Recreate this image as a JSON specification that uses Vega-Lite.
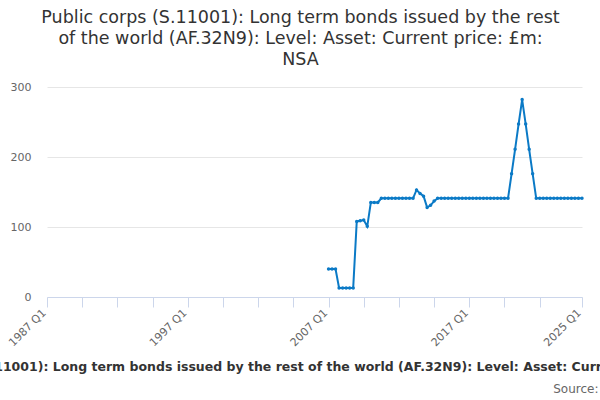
{
  "$schema": "https://vega.github.io/schema/vega-lite/v6.json",
  "autosize": {"type": "none"},
  "padding": {"left": 47, "top": 87, "right": 18, "bottom": 103},
  "width": 535,
  "height": 210,
  "config": {
    "font": "DejaVu Sans",
    "view": {"stroke": null}
  },
  "title": {
    "text": ["Public corps (S.11001): Long term bonds issued by the rest", "of the world (AF.32N9): Level: Asset: Current price: £m:", "NSA"],
    "anchor": "middle",
    "frame": "group",
    "dx": -14,
    "fontSize": 17.5,
    "fontWeight": "normal",
    "lineHeight": 21,
    "color": "#333333",
    "offset": 13
  },
  "data": {
    "values": [
      {"quarter": "2007-01-01", "value": 40},
      {"quarter": "2007-04-01", "value": 40},
      {"quarter": "2007-07-01", "value": 40},
      {"quarter": "2007-10-01", "value": 13},
      {"quarter": "2008-01-01", "value": 13},
      {"quarter": "2008-04-01", "value": 13},
      {"quarter": "2008-07-01", "value": 13},
      {"quarter": "2008-10-01", "value": 13},
      {"quarter": "2009-01-01", "value": 108},
      {"quarter": "2009-04-01", "value": 109},
      {"quarter": "2009-07-01", "value": 110},
      {"quarter": "2009-10-01", "value": 101},
      {"quarter": "2010-01-01", "value": 135},
      {"quarter": "2010-04-01", "value": 135},
      {"quarter": "2010-07-01", "value": 135},
      {"quarter": "2010-10-01", "value": 141},
      {"quarter": "2011-01-01", "value": 141},
      {"quarter": "2011-04-01", "value": 141},
      {"quarter": "2011-07-01", "value": 141},
      {"quarter": "2011-10-01", "value": 141},
      {"quarter": "2012-01-01", "value": 141},
      {"quarter": "2012-04-01", "value": 141},
      {"quarter": "2012-07-01", "value": 141},
      {"quarter": "2012-10-01", "value": 141},
      {"quarter": "2013-01-01", "value": 141},
      {"quarter": "2013-04-01", "value": 153},
      {"quarter": "2013-07-01", "value": 148},
      {"quarter": "2013-10-01", "value": 144},
      {"quarter": "2014-01-01", "value": 128},
      {"quarter": "2014-04-01", "value": 131},
      {"quarter": "2014-07-01", "value": 137},
      {"quarter": "2014-10-01", "value": 141},
      {"quarter": "2015-01-01", "value": 141},
      {"quarter": "2015-04-01", "value": 141},
      {"quarter": "2015-07-01", "value": 141},
      {"quarter": "2015-10-01", "value": 141},
      {"quarter": "2016-01-01", "value": 141},
      {"quarter": "2016-04-01", "value": 141},
      {"quarter": "2016-07-01", "value": 141},
      {"quarter": "2016-10-01", "value": 141},
      {"quarter": "2017-01-01", "value": 141},
      {"quarter": "2017-04-01", "value": 141},
      {"quarter": "2017-07-01", "value": 141},
      {"quarter": "2017-10-01", "value": 141},
      {"quarter": "2018-01-01", "value": 141},
      {"quarter": "2018-04-01", "value": 141},
      {"quarter": "2018-07-01", "value": 141},
      {"quarter": "2018-10-01", "value": 141},
      {"quarter": "2019-01-01", "value": 141},
      {"quarter": "2019-04-01", "value": 141},
      {"quarter": "2019-07-01", "value": 141},
      {"quarter": "2019-10-01", "value": 141},
      {"quarter": "2020-01-01", "value": 176},
      {"quarter": "2020-04-01", "value": 211},
      {"quarter": "2020-07-01", "value": 247},
      {"quarter": "2020-10-01", "value": 282},
      {"quarter": "2021-01-01", "value": 247},
      {"quarter": "2021-04-01", "value": 211},
      {"quarter": "2021-07-01", "value": 176},
      {"quarter": "2021-10-01", "value": 141},
      {"quarter": "2022-01-01", "value": 141},
      {"quarter": "2022-04-01", "value": 141},
      {"quarter": "2022-07-01", "value": 141},
      {"quarter": "2022-10-01", "value": 141},
      {"quarter": "2023-01-01", "value": 141},
      {"quarter": "2023-04-01", "value": 141},
      {"quarter": "2023-07-01", "value": 141},
      {"quarter": "2023-10-01", "value": 141},
      {"quarter": "2024-01-01", "value": 141},
      {"quarter": "2024-04-01", "value": 141},
      {"quarter": "2024-07-01", "value": 141},
      {"quarter": "2024-10-01", "value": 141},
      {"quarter": "2025-01-01", "value": 141}
    ]
  },
  "encoding": {
    "y": {
      "field": "value",
      "type": "quantitative",
      "scale": {"domain": [0, 300]},
      "axis": {
        "title": null,
        "values": [0, 100, 200, 300],
        "domain": false,
        "ticks": false,
        "gridColor": "#e6e6e6",
        "labelColor": "#666666",
        "labelFontSize": 11,
        "labelPadding": 16
      }
    }
  },
  "layer": [
    {
      "mark": {"type": "line", "color": "#0b7ac6", "strokeWidth": 2},
      "encoding": {
        "x": {
          "field": "quarter",
          "type": "temporal",
          "scale": {
            "type": "utc",
            "domain": [
              {"year": 1987, "month": 1, "date": 1, "utc": true},
              {"year": 2025, "month": 1, "date": 1, "utc": true}
            ]
          },
          "axis": {
            "title": "Public corps (S.11001): Long term bonds issued by the rest of the world (AF.32N9): Level: Asset: Current price: £m: NSA",
            "titleFontSize": 12.5,
            "titleFontWeight": "bold",
            "titleColor": "#333333",
            "titleX": 262,
            "titleY": 69,
            "titleBaseline": "middle",
            "titleAlign": "center",
            "values": [
              {"year": 1987, "month": 1, "date": 1, "utc": true},
              {"year": 1989, "month": 7, "date": 1, "utc": true},
              {"year": 1992, "month": 1, "date": 1, "utc": true},
              {"year": 1994, "month": 7, "date": 1, "utc": true},
              {"year": 1997, "month": 1, "date": 1, "utc": true},
              {"year": 1999, "month": 7, "date": 1, "utc": true},
              {"year": 2002, "month": 1, "date": 1, "utc": true},
              {"year": 2004, "month": 7, "date": 1, "utc": true},
              {"year": 2007, "month": 1, "date": 1, "utc": true},
              {"year": 2009, "month": 7, "date": 1, "utc": true},
              {"year": 2012, "month": 1, "date": 1, "utc": true},
              {"year": 2014, "month": 7, "date": 1, "utc": true},
              {"year": 2017, "month": 1, "date": 1, "utc": true},
              {"year": 2019, "month": 7, "date": 1, "utc": true},
              {"year": 2022, "month": 1, "date": 1, "utc": true},
              {"year": 2025, "month": 1, "date": 1, "utc": true}
            ],
            "labelExpr": "utcmonth(datum.value) == 0 && ((utcyear(datum.value) - 1987) % 10 == 0 || utcyear(datum.value) == 2025) ? utcFormat(datum.value, '%Y') + ' Q1' : ''",
            "labelAngle": -45,
            "labelAlign": "right",
            "labelBaseline": "middle",
            "labelPadding": 4,
            "labelOffset": -3,
            "labelColor": "#666666",
            "labelFontSize": 11,
            "labelOverlap": false,
            "labelBound": false,
            "labelFlush": false,
            "grid": false,
            "domainColor": "#ccd6eb",
            "tickColor": "#ccd6eb",
            "tickSize": 10
          }
        }
      }
    },
    {
      "mark": {"type": "point", "filled": true, "color": "#0b7ac6", "size": 12, "opacity": 1},
      "encoding": {
        "x": {
          "field": "quarter",
          "type": "temporal",
          "scale": {
            "type": "utc",
            "domain": [
              {"year": 1987, "month": 1, "date": 1, "utc": true},
              {"year": 2025, "month": 1, "date": 1, "utc": true}
            ]
          },
          "axis": {
            "orient": "bottom",
            "title": "Source:",
            "titleFontSize": 12,
            "titleFontWeight": "normal",
            "titleColor": "#666666",
            "titleX": 551,
            "titleY": 91,
            "titleAlign": "right",
            "titleBaseline": "middle",
            "domain": false,
            "ticks": false,
            "labels": false,
            "grid": false
          }
        }
      }
    }
  ],
  "resolve": {"scale": {"x": "independent"}}
}
